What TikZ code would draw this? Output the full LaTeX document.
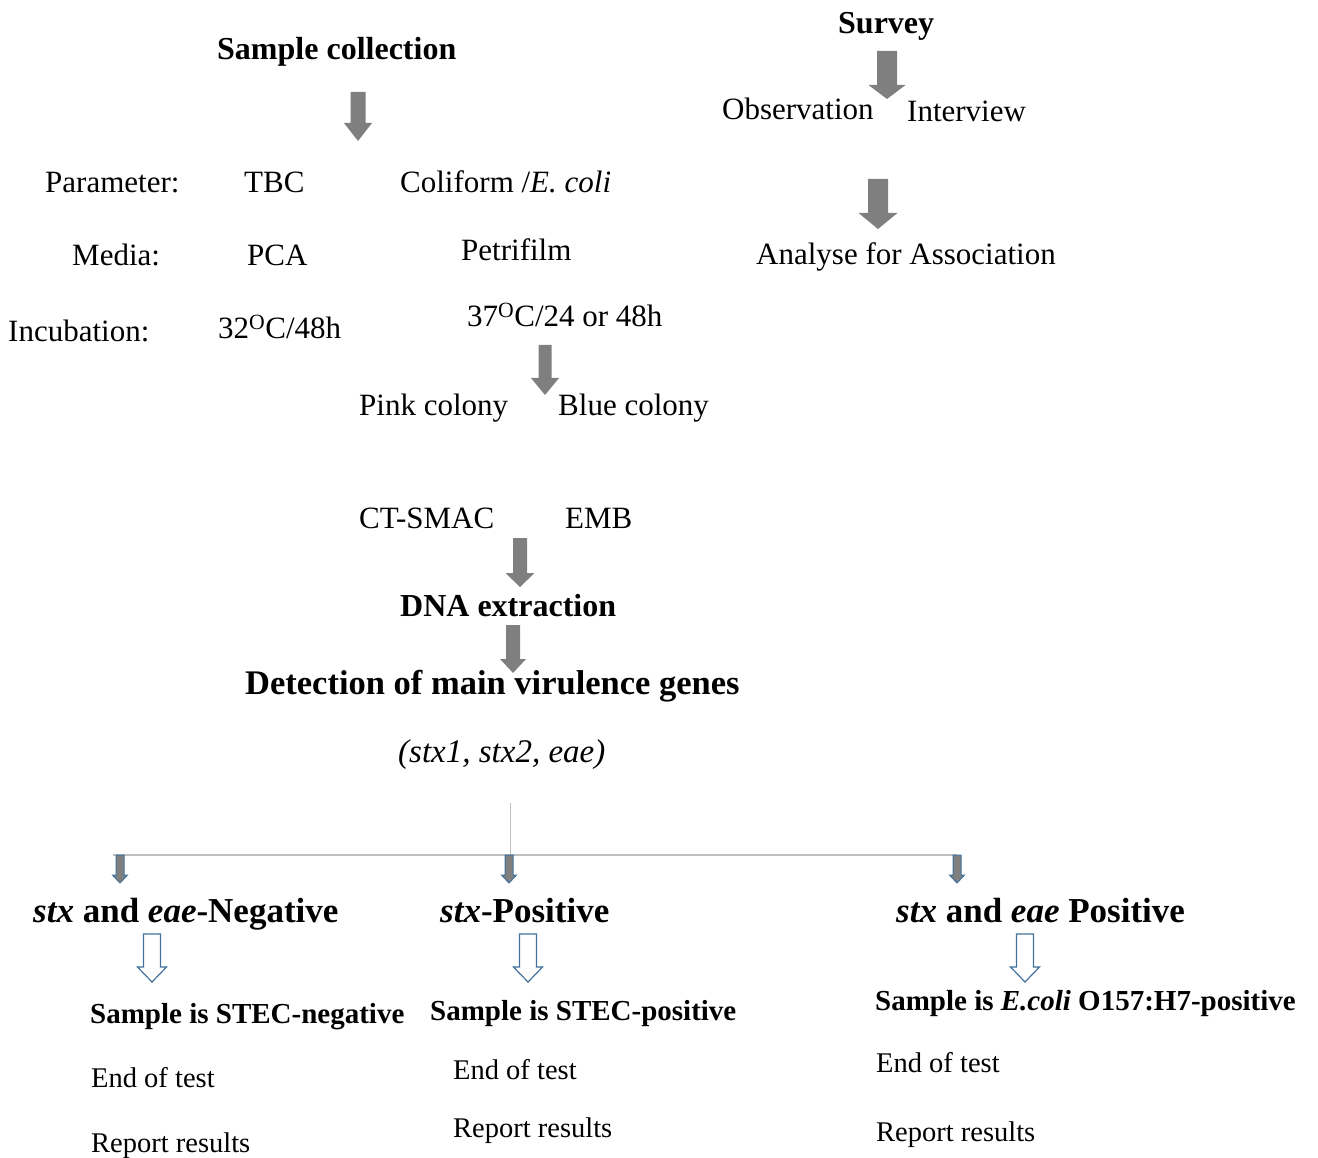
\documentclass[tikz,border=0pt]{standalone}
\usepackage{fontspec}
\setmainfont{Liberation Serif}
\usepackage{tikz}
\usetikzlibrary{calc}
\definecolor{arrowgray}{HTML}{7F7F7F}
\definecolor{edgeblue}{HTML}{41719C}
\definecolor{linegray}{HTML}{BFBFBF}
% down arrow: style, top, tip, half shaft, half head, head length
\newcommand{\downshape}[6]{ \draw[#1] let \p1=(#2), \p2=(#3) in (\x1-#4,\y1) -- (\x1+#4,\y1) -- (\x1+#4,\y2+#6) -- (\x1+#5,\y2+#6) -- (\x1,\y2) -- (\x1-#5,\y2+#6) -- (\x1-#4,\y2+#6) -- cycle;}
\tikzset{
  txt/.style={anchor=base west, inner sep=0pt, font=\fontsize{31}{36}\selectfont},
  hd/.style={anchor=base west, inner sep=0pt, font=\bfseries\fontsize{32}{38}\selectfont},
  res/.style={anchor=base west, inner sep=0pt, font=\fontsize{28.5}{34}\selectfont},
  bigarrow/.style={fill=arrowgray, draw=none},
  smallarrow/.style={fill=arrowgray, draw=edgeblue, line width=1pt},
  openarrow/.style={fill=white, draw=edgeblue, line width=1.2pt}
}
\begin{document}
\begin{tikzpicture}[x=1pt,y=-1pt]
        \useasboundingbox (0,0) rectangle (1318,1158);

        % left column: lab work
        \node[hd] (sample) at (217,60) {Sample collection};
        \node[txt] (param) at (45,193) {Parameter:};
        \node[txt] (tbc) at (244,193) {TBC};
        \node[txt] (coli) at (400,193) {Coliform /\textit{E. coli}};
        \node[txt] (media) at (72,266) {Media:};
        \node[txt] (pca) at (247,266) {PCA};
        \node[txt] (petri) at (461,261) {Petrifilm};
        \node[txt] (incub) at (8,342) {Incubation:};
        \node[txt] (inca) at (218,339) {32\textsuperscript{O}C/48h};
        \node[txt] (incb) at (467,327) {37\textsuperscript{O}C/24 or 48h};
        \node[txt] (pink) at (359,416) {Pink colony};
        \node[txt] (blue) at (558,416) {Blue colony};
        \node[txt] (smac) at (359,528) {CT-SMAC};
        \node[txt] (emb) at (565,528) {EMB};
        \node[hd] (dna) at (400,616) {DNA extraction};
        \node[hd, font=\bfseries\fontsize{34.5}{40}\selectfont] (detect) at (245,694) {Detection of main virulence genes};
        \node[txt, font=\itshape\fontsize{33}{38}\selectfont] (genes) at (398,762) {(stx1, stx2, eae)};

        % right column: survey
        \node[hd] (survey) at (838,34) {Survey};
        \node[txt] (obs) at (722,120) {Observation};
        \node[txt] (intv) at (907,122) {Interview};
        \node[txt] (assoc) at (756,265) {Analyse for Association};

        % big arrows
        \coordinate (a1s) at (358,92);  \coordinate (a1e) at (358,141);
        \coordinate (a2s) at (887,51);  \coordinate (a2e) at (887,99);
        \coordinate (a3s) at (878,179); \coordinate (a3e) at (878,229);
        \coordinate (a4s) at (545,345); \coordinate (a4e) at (545,395);
        \coordinate (a5s) at (520,538); \coordinate (a5e) at (520,587);
        \coordinate (a6s) at (513,625); \coordinate (a6e) at (513,673);
        \downshape{bigarrow}{a1s}{a1e}{7.5pt}{14pt}{18pt}
        \downshape{bigarrow}{a2s}{a2e}{10pt}{18.5pt}{14pt}
        \downshape{bigarrow}{a3s}{a3e}{10pt}{19.5pt}{16pt}
        \downshape{bigarrow}{a4s}{a4e}{6.5pt}{14pt}{17pt}
        \downshape{bigarrow}{a5s}{a5e}{7pt}{14.5pt}{14pt}
        \downshape{bigarrow}{a6s}{a6e}{7pt}{13pt}{14pt}

        % branching
        \coordinate (vtop) at (510,803);
        \coordinate (hjoin) at (510,855);
        \coordinate (hleft) at (113,855);
        \coordinate (hright) at (957,855);
        \draw[linegray, line width=1pt] (vtop) -- (hjoin);
        \draw[linegray, line width=2pt] (hleft) -- (hright);
        \coordinate (b1e) at (120,883); \coordinate (b1s) at (120,855);
        \coordinate (b2e) at (509,883); \coordinate (b2s) at (509,855);
        \coordinate (b3e) at (957,883); \coordinate (b3s) at (957,855);
        \downshape{smallarrow}{b1s}{b1e}{4pt}{7.5pt}{8pt}
        \downshape{smallarrow}{b2s}{b2e}{4pt}{7.5pt}{8pt}
        \downshape{smallarrow}{b3s}{b3e}{4pt}{7.5pt}{8pt}

        % outcomes
        \node[hd, font=\bfseries\fontsize{35}{40}\selectfont] (neg) at (33,922) {\textit{stx} and \textit{eae}-Negative};
        \node[hd, font=\bfseries\fontsize{35}{40}\selectfont] (pos) at (440,922) {\textit{stx}-Positive};
        \node[hd, font=\bfseries\fontsize{35}{40}\selectfont] (both) at (896,922) {\textit{stx} and \textit{eae} Positive};

        \coordinate (c1s) at (152,934);  \coordinate (c1e) at (152,982);
        \coordinate (c2s) at (528,934);  \coordinate (c2e) at (528,982);
        \coordinate (c3s) at (1025,934); \coordinate (c3e) at (1025,982);
        \downshape{openarrow}{c1s}{c1e}{8.5pt}{14.5pt}{15pt}
        \downshape{openarrow}{c2s}{c2e}{8.5pt}{14.5pt}{15pt}
        \downshape{openarrow}{c3s}{c3e}{8.5pt}{14.5pt}{15pt}

        \node[res, font=\bfseries\fontsize{29}{34}\selectfont] (rneg) at (90,1023) {Sample is STEC-negative};
        \node[res, font=\bfseries\fontsize{29}{34}\selectfont] (rpos) at (430,1020) {Sample is STEC-positive};
        \node[res, font=\bfseries\fontsize{29}{34}\selectfont] (rboth) at (875,1010) {Sample is \textit{E.coli} O157:H7-positive};

        \node[res] (end1) at (91,1087) {End of test};
        \node[res] (end2) at (453,1079) {End of test};
        \node[res] (end3) at (876,1072) {End of test};
        \node[res] (rep1) at (91,1152) {Report results};
        \node[res] (rep2) at (453,1137) {Report results};
        \node[res] (rep3) at (876,1141) {Report results};
    \end{tikzpicture}
\end{document}
